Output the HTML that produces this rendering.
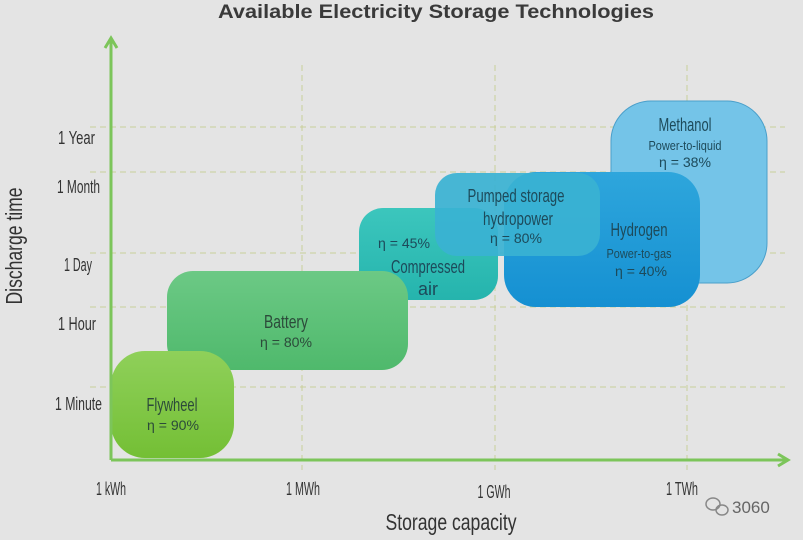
<!DOCTYPE html>
<html><head><meta charset="utf-8"><style>
html,body{margin:0;padding:0;background:#e4e4e4;}
svg{display:block}
text{font-family:"Liberation Sans",sans-serif;}
</style></head><body>
<svg width="803" height="540" viewBox="0 0 803 540" xmlns="http://www.w3.org/2000/svg">
<defs>
<linearGradient id="gf" x1="0" y1="0" x2="0" y2="1"><stop offset="0" stop-color="#8fd05a"/><stop offset="1" stop-color="#74bf35"/></linearGradient>
<linearGradient id="gb" x1="0" y1="0" x2="0" y2="1"><stop offset="0" stop-color="#6cc985"/><stop offset="1" stop-color="#4fb96c"/></linearGradient>
<linearGradient id="gc" x1="0" y1="0" x2="0" y2="1"><stop offset="0" stop-color="#3cc6bd"/><stop offset="1" stop-color="#25b4ad"/></linearGradient>
<linearGradient id="gh" x1="0" y1="0" x2="0" y2="1"><stop offset="0" stop-color="#2ea6dc"/><stop offset="1" stop-color="#1590d2"/></linearGradient>
</defs>
<rect width="803" height="540" fill="#e4e4e4"/>
<text x="436" y="18" text-anchor="middle" font-weight="bold" font-size="19" fill="#3a3a3a" textLength="436" lengthAdjust="spacingAndGlyphs">Available Electricity Storage Technologies</text>
<g stroke="#c9cf9a" stroke-width="1" stroke-dasharray="6,4">
<line x1="302" y1="65" x2="302" y2="470"/>
<line x1="495" y1="65" x2="495" y2="470"/>
<line x1="687" y1="65" x2="687" y2="470"/>
<line x1="90" y1="127" x2="785" y2="127"/>
<line x1="90" y1="172" x2="785" y2="172"/>
<line x1="90" y1="253" x2="785" y2="253"/>
<line x1="90" y1="307" x2="785" y2="307"/>
<line x1="90" y1="387" x2="785" y2="387"/>
</g>
<rect x="611" y="101" width="156" height="182" rx="40" fill="#74c4e8" stroke="#4a9fca" stroke-width="1"/>
<rect x="504" y="172" width="196" height="135" rx="32" fill="url(#gh)"/>
<rect x="359" y="208" width="139" height="92" rx="24" fill="url(#gc)"/>
<rect x="435" y="173" width="165" height="83" rx="22" fill="#3ab2d2" opacity="0.92"/>
<rect x="167" y="271" width="241" height="99" rx="26" fill="url(#gb)"/>
<rect x="111" y="351" width="123" height="107" rx="34" fill="url(#gf)"/>
<g stroke="#7cc55a" stroke-width="3" fill="none">
<line x1="111" y1="40" x2="111" y2="460"/>
<line x1="111" y1="460" x2="786" y2="460"/>
<polyline points="105,48 111,38 117,48"/>
<polyline points="778,454 788,460 778,466"/>
</g>
<g fill="#2c4a3a" font-size="18" text-anchor="middle">
<text x="172" y="411" textLength="51" lengthAdjust="spacingAndGlyphs">Flywheel</text>
<text x="173" y="430" font-size="14" textLength="52" lengthAdjust="spacingAndGlyphs">η = 90%</text>
<text x="286" y="328" textLength="44" lengthAdjust="spacingAndGlyphs">Battery</text>
<text x="286" y="347" font-size="14" textLength="52" lengthAdjust="spacingAndGlyphs">η = 80%</text>
</g>
<g fill="#1d4a5a" font-size="18" text-anchor="middle">
<text x="428" y="273" textLength="74" lengthAdjust="spacingAndGlyphs">Compressed</text>
<text x="428" y="295" textLength="20" lengthAdjust="spacingAndGlyphs">air</text>
<text x="404" y="248" font-size="14" textLength="52" lengthAdjust="spacingAndGlyphs">η = 45%</text>
<text x="516" y="202" textLength="97" lengthAdjust="spacingAndGlyphs">Pumped storage</text>
<text x="518" y="225" textLength="70" lengthAdjust="spacingAndGlyphs">hydropower</text>
<text x="516" y="243" font-size="14" textLength="52" lengthAdjust="spacingAndGlyphs">η = 80%</text>
<text x="639" y="236" textLength="57" lengthAdjust="spacingAndGlyphs">Hydrogen</text>
<text x="639" y="258" font-size="13" textLength="65" lengthAdjust="spacingAndGlyphs">Power-to-gas</text>
<text x="641" y="276" font-size="14" textLength="52" lengthAdjust="spacingAndGlyphs">η = 40%</text>
<text x="685" y="131" textLength="53" lengthAdjust="spacingAndGlyphs">Methanol</text>
<text x="685" y="150" font-size="13" textLength="73" lengthAdjust="spacingAndGlyphs">Power-to-liquid</text>
<text x="685" y="167" font-size="14" textLength="52" lengthAdjust="spacingAndGlyphs">η = 38%</text>
</g>
<g fill="#333" font-size="18" text-anchor="end">
<text x="95" y="144" textLength="37" lengthAdjust="spacingAndGlyphs">1 Year</text>
<text x="100" y="193" textLength="43" lengthAdjust="spacingAndGlyphs">1 Month</text>
<text x="92" y="271" textLength="28" lengthAdjust="spacingAndGlyphs">1 Day</text>
<text x="96" y="330" textLength="38" lengthAdjust="spacingAndGlyphs">1 Hour</text>
<text x="102" y="410" textLength="47" lengthAdjust="spacingAndGlyphs">1 Minute</text>
</g>
<g fill="#333" font-size="18" text-anchor="middle">
<text x="111" y="495" textLength="30" lengthAdjust="spacingAndGlyphs">1 kWh</text>
<text x="303" y="495" textLength="34" lengthAdjust="spacingAndGlyphs">1 MWh</text>
<text x="494" y="498" textLength="33" lengthAdjust="spacingAndGlyphs">1 GWh</text>
<text x="682" y="495" textLength="32" lengthAdjust="spacingAndGlyphs">1 TWh</text>
</g>
<text x="451" y="530" text-anchor="middle" font-size="23" fill="#333" textLength="131" lengthAdjust="spacingAndGlyphs">Storage capacity</text>
<text transform="translate(22,246) rotate(-90)" text-anchor="middle" font-size="23" fill="#333" textLength="117" lengthAdjust="spacingAndGlyphs">Discharge time</text>
<g fill="none" stroke="#888" stroke-width="1.5">
<ellipse cx="713" cy="504" rx="7" ry="6"/>
<ellipse cx="722" cy="510" rx="6" ry="5"/>
</g>
<text x="732" y="513" font-size="17" fill="#666">3060</text>
</svg>
</body></html>
